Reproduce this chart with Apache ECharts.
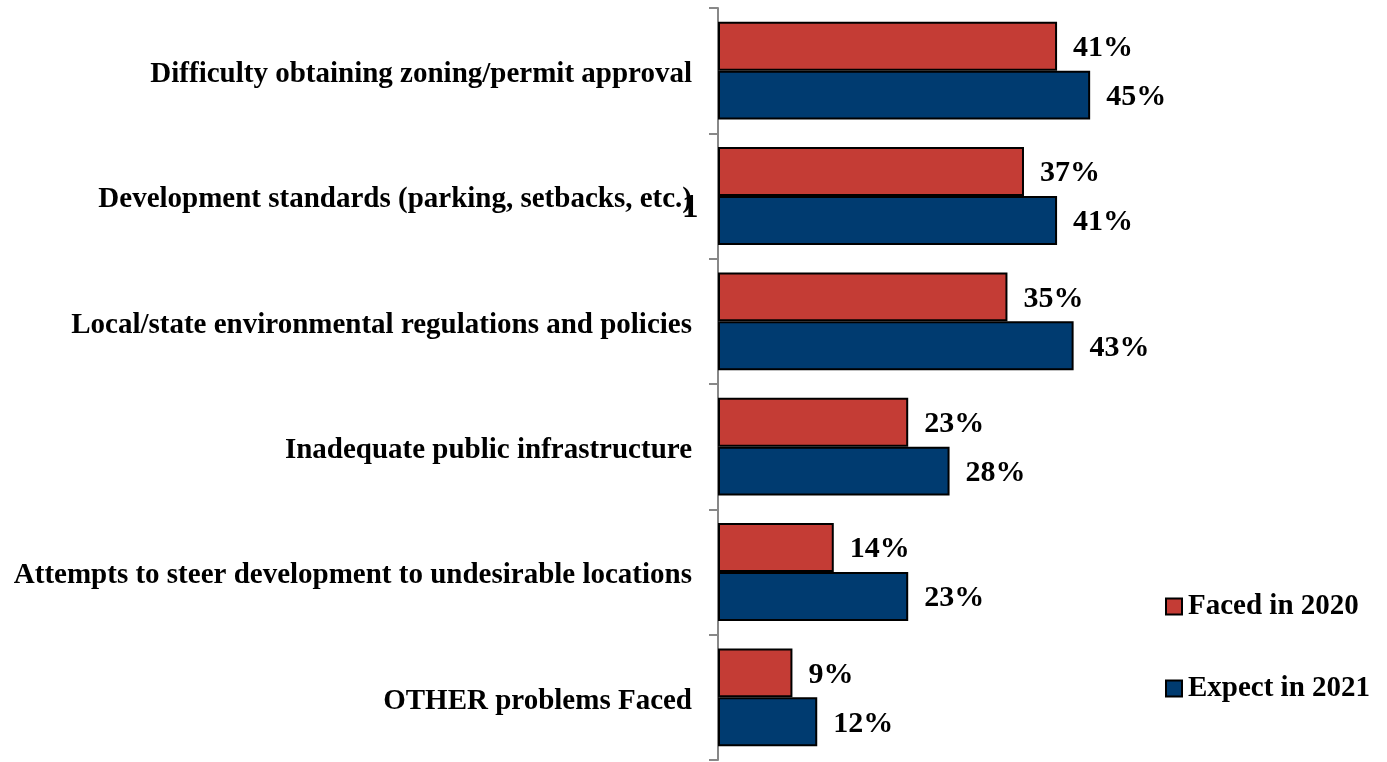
<!DOCTYPE html>
<html><head><meta charset="utf-8">
<script src="https://cdn.jsdelivr.net/npm/echarts@6/dist/echarts.min.js"></script>
<style>html,body{margin:0;padding:0;background:#fff;}#c{width:1387px;height:762px;}</style>
</head><body><div id="c"></div>
<script>
const categories = [
  "Difficulty obtaining zoning/permit approval",
  "Development standards (parking, setbacks, etc.)",
  "Local/state environmental regulations and policies",
  "Inadequate public infrastructure",
  "Attempts to steer development to undesirable locations",
  "OTHER problems Faced"
];
const faced2020 = [41, 37, 35, 23, 14, 9];
const expect2021 = [45, 41, 43, 28, 23, 12];
const seriesNames = ["Faced in 2020", "Expect in 2021"];

const font = "'Liberation Serif', 'Times New Roman', serif";
const chart = echarts.init(document.getElementById('c'));
const lbl = {
  show: true, position: 'right', distance: 16,
  formatter: p => p.value + '%',
  fontFamily: font, fontWeight: 'bold', fontSize: 30, color: '#000', offset: [0, 2]
};
chart.setOption({
  animation: false,
  grid: {left: 718, top: 8, bottom: 2, width: 413.5, containLabel: false},
  xAxis: {type: 'value', min: 0, max: 50, show: false},
  yAxis: {
    type: 'category', data: categories, inverse: true,
    axisLine: {show: true, lineStyle: {color: '#888', width: 2}},
    axisTick: {show: true, length: 9, lineStyle: {color: '#888', width: 2}},
    axisLabel: {
      margin: 26,
      formatter: v => '{a|' + v + '}',
      rich: {a: {fontFamily: font, fontWeight: 'bold', fontSize: 29, color: '#000', padding: [8, 0, 0, 0]}}
    }
  },
  legend: {
    orient: 'vertical', left: 1160, top: 587, itemGap: 53,
    itemWidth: 16, itemHeight: 16, icon: 'rect',
    textStyle: {fontFamily: font, fontWeight: 'bold', fontSize: 29, color: '#000', padding: [0,0,0,1]},
    data: seriesNames
  },
  series: [
    {name: seriesNames[0], type: 'bar', data: faced2020, barGap: '0%', barCategoryGap: '22%',
     itemStyle: {color: '#C43C35', borderColor: '#000', borderWidth: 2}, label: lbl},
    {name: seriesNames[1], type: 'bar', data: expect2021,
     itemStyle: {color: '#003B70', borderColor: '#000', borderWidth: 2}, label: lbl}
  ],
  graphic: [{type: 'text', left: 682, top: 192,
    style: {text: '1', fontFamily: font, fontWeight: 'bold', fontSize: 33, fill: '#000'}}]
});
</script></body></html>
